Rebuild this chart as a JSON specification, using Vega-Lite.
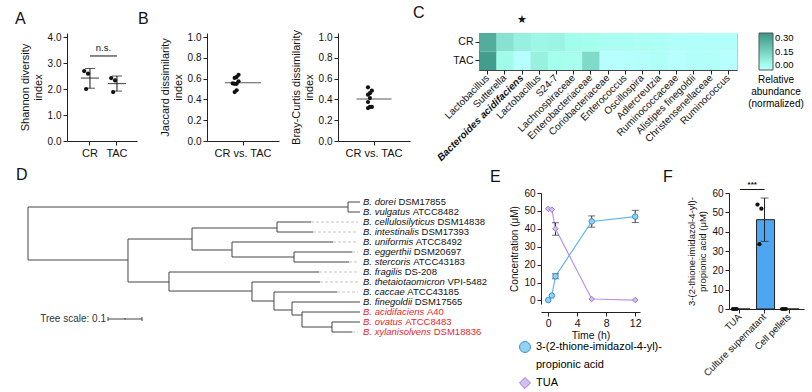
{
 "$schema": "https://vega.github.io/schema/vega-lite/v6.json",
 "background": "white",
 "padding": {"left": 15, "top": 4, "right": 0, "bottom": 0},
 "spacing": 4,
 "resolve": {"scale": {"color": "independent"}, "legend": {"color": "independent"}},
 "config": {
  "font": "Liberation Sans",
  "view": {"stroke": null},
  "axis": {"grid": false, "domainColor": "#222", "tickColor": "#222", "labelColor": "#111", "titleColor": "#111", "tickSize": 4, "labelFontSize": 10, "titleFontSize": 11, "titleFontWeight": "normal", "labelPadding": 2, "titlePadding": 4, "tickCount": 30},
  "title": {"fontSize": 16, "fontWeight": "normal", "anchor": "start", "frame": "group", "color": "#111"},
  "legend": {"titleFontWeight": "normal", "padding": 0}
 },
 "datasets": {
  "shannon": [
   {"group": "CR", "rep": "a", "value": 2.69},
   {"group": "CR", "rep": "b", "value": 2.0},
   {"group": "CR", "rep": "c", "value": 2.59},
   {"group": "TAC", "rep": "a", "value": 2.42},
   {"group": "TAC", "rep": "b", "value": 1.88},
   {"group": "TAC", "rep": "c", "value": 2.33}
  ],
  "shannon_sum": [
   {"group": "CR", "mean": 2.42, "lo": 2.03, "hi": 2.79},
   {"group": "TAC", "mean": 2.21, "lo": 1.92, "hi": 2.5}
  ],
  "ns": [{"g1": "CR", "g2": "TAC", "y": 3.27, "label": "n.s."}],
  "jaccard": [
   {"cmp": "CR vs. TAC", "col": 1, "value": 0.554},
   {"cmp": "CR vs. TAC", "col": 2, "value": 0.606},
   {"cmp": "CR vs. TAC", "col": 2, "value": 0.55},
   {"cmp": "CR vs. TAC", "col": 2, "value": 0.47},
   {"cmp": "CR vs. TAC", "col": 3, "value": 0.615},
   {"cmp": "CR vs. TAC", "col": 3, "value": 0.55},
   {"cmp": "CR vs. TAC", "col": 3, "value": 0.488},
   {"cmp": "CR vs. TAC", "col": 4, "value": 0.637},
   {"cmp": "CR vs. TAC", "col": 4, "value": 0.574}
  ],
  "jaccard_mean": [{"cmp": "CR vs. TAC", "mean": 0.56}],
  "bray": [
   {"cmp": "CR vs. TAC", "col": 1, "value": 0.516},
   {"cmp": "CR vs. TAC", "col": 1, "value": 0.445},
   {"cmp": "CR vs. TAC", "col": 1, "value": 0.375},
   {"cmp": "CR vs. TAC", "col": 1, "value": 0.317},
   {"cmp": "CR vs. TAC", "col": 2, "value": 0.46},
   {"cmp": "CR vs. TAC", "col": 2, "value": 0.413},
   {"cmp": "CR vs. TAC", "col": 2, "value": 0.327},
   {"cmp": "CR vs. TAC", "col": 3, "value": 0.484},
   {"cmp": "CR vs. TAC", "col": 3, "value": 0.327}
  ],
  "bray_mean": [{"cmp": "CR vs. TAC", "mean": 0.404}],
  "abund": [
   {"taxon": "Lactobacillus", "group": "CR", "value": 0.24},
   {"taxon": "Sutterella", "group": "CR", "value": 0.11},
   {"taxon": "Bacteroides acidifaciens", "group": "CR", "value": 0.075},
   {"taxon": "Lactobacillus 2", "group": "CR", "value": 0.06},
   {"taxon": "S24-7", "group": "CR", "value": 0.065},
   {"taxon": "Lachnospiraceae", "group": "CR", "value": 0.045},
   {"taxon": "Enterobacteriaceae", "group": "CR", "value": 0.04},
   {"taxon": "Coriobacteriaceae", "group": "CR", "value": 0.028},
   {"taxon": "Enterococcus", "group": "CR", "value": 0.028},
   {"taxon": "Oscillospira", "group": "CR", "value": 0.022},
   {"taxon": "Adlercreutzia", "group": "CR", "value": 0.02},
   {"taxon": "Ruminococcaceae", "group": "CR", "value": 0.013},
   {"taxon": "Alistipes finegoldii", "group": "CR", "value": 0.012},
   {"taxon": "Christensenellaceae", "group": "CR", "value": 0.01},
   {"taxon": "Ruminococcus", "group": "CR", "value": 0.01},
   {"taxon": "Lactobacillus", "group": "TAC", "value": 0.28},
   {"taxon": "Sutterella", "group": "TAC", "value": 0.05},
   {"taxon": "Bacteroides acidifaciens", "group": "TAC", "value": 0.0},
   {"taxon": "Lactobacillus 2", "group": "TAC", "value": 0.075},
   {"taxon": "S24-7", "group": "TAC", "value": 0.04},
   {"taxon": "Lachnospiraceae", "group": "TAC", "value": 0.035},
   {"taxon": "Enterobacteriaceae", "group": "TAC", "value": 0.13},
   {"taxon": "Coriobacteriaceae", "group": "TAC", "value": 0.0},
   {"taxon": "Enterococcus", "group": "TAC", "value": 0.0},
   {"taxon": "Oscillospira", "group": "TAC", "value": 0.006},
   {"taxon": "Adlercreutzia", "group": "TAC", "value": 0.016},
   {"taxon": "Ruminococcaceae", "group": "TAC", "value": 0.0},
   {"taxon": "Alistipes finegoldii", "group": "TAC", "value": 0.009},
   {"taxon": "Christensenellaceae", "group": "TAC", "value": 0.013},
   {"taxon": "Ruminococcus", "group": "TAC", "value": 0.0}
  ],
  "branches": [
   {"x": 0, "x2": 0, "y": 0.5, "y2": 5.8},
   {"x": 0, "x2": 0.9412, "y": 0.5, "y2": 0.5},
   {"x": 0.9412, "x2": 0.9412, "y": 0, "y2": 1},
   {"x": 0.9412, "x2": 0.9765, "y": 0, "y2": 0},
   {"x": 0.9412, "x2": 0.9765, "y": 1, "y2": 1},
   {"x": 0, "x2": 0.2941, "y": 5.8, "y2": 5.8},
   {"x": 0.2941, "x2": 0.2941, "y": 3.7, "y2": 8},
   {"x": 0.2941, "x2": 0.4824, "y": 3.7, "y2": 3.7},
   {"x": 0.4824, "x2": 0.4824, "y": 2.6, "y2": 4.8},
   {"x": 0.4824, "x2": 0.7324, "y": 2.6, "y2": 2.6},
   {"x": 0.7324, "x2": 0.7324, "y": 2, "y2": 3},
   {"x": 0.7324, "x2": 0.8324, "y": 2, "y2": 2},
   {"x": 0.7324, "x2": 0.8382, "y": 3, "y2": 3},
   {"x": 0.4824, "x2": 0.6, "y": 4.8, "y2": 4.8},
   {"x": 0.6, "x2": 0.6, "y": 4, "y2": 5.5},
   {"x": 0.6, "x2": 0.8971, "y": 4, "y2": 4},
   {"x": 0.6, "x2": 0.7824, "y": 5.5, "y2": 5.5},
   {"x": 0.7824, "x2": 0.7824, "y": 5, "y2": 6},
   {"x": 0.7824, "x2": 0.9529, "y": 5, "y2": 5},
   {"x": 0.7824, "x2": 0.9441, "y": 6, "y2": 6},
   {"x": 0.2941, "x2": 0.4147, "y": 8, "y2": 8},
   {"x": 0.4147, "x2": 0.4147, "y": 7, "y2": 8.9},
   {"x": 0.4147, "x2": 0.8559, "y": 7, "y2": 7},
   {"x": 0.4147, "x2": 0.6588, "y": 8.9, "y2": 8.9},
   {"x": 0.6588, "x2": 0.6588, "y": 8, "y2": 9.9},
   {"x": 0.6588, "x2": 0.8588, "y": 8, "y2": 8},
   {"x": 0.6588, "x2": 0.7235, "y": 9.9, "y2": 9.9},
   {"x": 0.7235, "x2": 0.7235, "y": 9, "y2": 10.8},
   {"x": 0.7235, "x2": 0.9088, "y": 9, "y2": 9},
   {"x": 0.7235, "x2": 0.7765, "y": 10.8, "y2": 10.8},
   {"x": 0.7765, "x2": 0.7765, "y": 10, "y2": 11.3},
   {"x": 0.7765, "x2": 0.9765, "y": 10, "y2": 10},
   {"x": 0.7765, "x2": 0.8059, "y": 11.3, "y2": 11.3},
   {"x": 0.8059, "x2": 0.8059, "y": 11, "y2": 12.5},
   {"x": 0.8059, "x2": 0.9765, "y": 11, "y2": 11},
   {"x": 0.8059, "x2": 0.8941, "y": 12.5, "y2": 12.5},
   {"x": 0.8941, "x2": 0.8941, "y": 12, "y2": 13},
   {"x": 0.8941, "x2": 0.9765, "y": 12, "y2": 12},
   {"x": 0.8941, "x2": 0.9529, "y": 13, "y2": 13}
  ],
  "gaps": [
   {"x": 0.8324, "x2": 0.9706, "y": 2},
   {"x": 0.8382, "x2": 0.9706, "y": 3},
   {"x": 0.8971, "x2": 0.9706, "y": 4},
   {"x": 0.9529, "x2": 0.9706, "y": 5},
   {"x": 0.9441, "x2": 0.9706, "y": 6},
   {"x": 0.8559, "x2": 0.9706, "y": 7},
   {"x": 0.8588, "x2": 0.9706, "y": 8},
   {"x": 0.9088, "x2": 0.9706, "y": 9},
   {"x": 0.9529, "x2": 0.9706, "y": 13}
  ],
  "leaves": [
   {"i": 0, "tip": 0.9765, "sp": "B. dorei", "strain": "DSM17855", "sel": "no"},
   {"i": 1, "tip": 0.9765, "sp": "B. vulgatus", "strain": "ATCC8482", "sel": "no"},
   {"i": 2, "tip": 0.9765, "sp": "B. cellulosilyticus", "strain": "DSM14838", "sel": "no"},
   {"i": 3, "tip": 0.9765, "sp": "B. intestinalis", "strain": "DSM17393", "sel": "no"},
   {"i": 4, "tip": 0.9765, "sp": "B. uniformis", "strain": "ATCC8492", "sel": "no"},
   {"i": 5, "tip": 0.9765, "sp": "B. eggerthii", "strain": "DSM20697", "sel": "no"},
   {"i": 6, "tip": 0.9765, "sp": "B. stercoris", "strain": "ATCC43183", "sel": "no"},
   {"i": 7, "tip": 0.9765, "sp": "B. fragilis", "strain": "DS-208", "sel": "no"},
   {"i": 8, "tip": 0.9765, "sp": "B. thetaiotaomicron", "strain": "VPI-5482", "sel": "no"},
   {"i": 9, "tip": 0.9765, "sp": "B. caccae", "strain": "ATCC43185", "sel": "no"},
   {"i": 10, "tip": 0.9765, "sp": "B. finegoldii", "strain": "DSM17565", "sel": "no"},
   {"i": 11, "tip": 0.9765, "sp": "B. acidifaciens", "strain": "A40", "sel": "yes"},
   {"i": 12, "tip": 0.9765, "sp": "B. ovatus", "strain": "ATCC8483", "sel": "yes"},
   {"i": 13, "tip": 0.9765, "sp": "B. xylanisolvens", "strain": "DSM18836", "sel": "yes"}
  ],
  "scalebar": [{"x": 0.2353, "x2": 0.3353, "y": 11.7, "label": "Tree scale: 0.1"}],
  "scaleticks": [
   {"x": 0.2353, "y": 11.5, "y2": 11.9},
   {"x": 0.3353, "y": 11.5, "y2": 11.9},
   {"x": 0.2853, "y": 11.6, "y2": 11.75}
  ],
  "conc": [
   {"compound": "3-(2-thione-imidazol-4-yl)-propionic acid", "t": 0, "mean": 0.2},
   {"compound": "3-(2-thione-imidazol-4-yl)-propionic acid", "t": 0.5, "mean": 2.7},
   {"compound": "3-(2-thione-imidazol-4-yl)-propionic acid", "t": 1, "mean": 13.5},
   {"compound": "3-(2-thione-imidazol-4-yl)-propionic acid", "t": 6, "mean": 44.1},
   {"compound": "3-(2-thione-imidazol-4-yl)-propionic acid", "t": 12, "mean": 46.8},
   {"compound": "TUA", "t": 0, "mean": 51.2},
   {"compound": "TUA", "t": 0.5, "mean": 50.7},
   {"compound": "TUA", "t": 1, "mean": 40},
   {"compound": "TUA", "t": 6, "mean": 0.8},
   {"compound": "TUA", "t": 12, "mean": 0.2}
  ],
  "conc_err": [
   {"compound": "3-(2-thione-imidazol-4-yl)-propionic acid", "t": 1, "lo": 12.1, "hi": 14.9},
   {"compound": "3-(2-thione-imidazol-4-yl)-propionic acid", "t": 6, "lo": 40.9, "hi": 47.2},
   {"compound": "3-(2-thione-imidazol-4-yl)-propionic acid", "t": 12, "lo": 43.5, "hi": 50.3},
   {"compound": "TUA", "t": 1, "lo": 36.4, "hi": 43.4}
  ],
  "thione_bar": [
   {"sample": "TUA", "mean": 0},
   {"sample": "Culture supernatant", "mean": 46.2},
   {"sample": "Cell pellets", "mean": 0}
  ],
  "thione_pts": [
   {"sample": "TUA", "rep": "a", "value": 0},
   {"sample": "TUA", "rep": "b", "value": 0},
   {"sample": "TUA", "rep": "c", "value": 0},
   {"sample": "Culture supernatant", "rep": "a", "value": 54},
   {"sample": "Culture supernatant", "rep": "b", "value": 33.5},
   {"sample": "Culture supernatant", "rep": "c", "value": 51.9},
   {"sample": "Cell pellets", "rep": "a", "value": 0},
   {"sample": "Cell pellets", "rep": "b", "value": 0},
   {"sample": "Cell pellets", "rep": "c", "value": 0}
  ],
  "thione_err": [{"sample": "Culture supernatant", "lo": 35, "hi": 57.4}],
  "sig": [{"g1": "TUA", "g2": "Culture supernatant", "y": 61.8, "label": "***"}]
 },
 "vconcat": [
  {
   "bounds": "flush",
   "spacing": 0,
   "resolve": {"scale": {"color": "independent"}, "legend": {"color": "independent"}},
   "hconcat": [
    {
     "width": 70, "height": 108,
     "title": {"text": "A", "dx": -52, "offset": 5},
     "layer": [
      {"data": {"name": "shannon"}, "mark": {"type": "circle", "size": 18, "color": "#111", "opacity": 1},
       "encoding": {
        "x": {"field": "group", "type": "nominal", "scale": {"type": "band", "domain": ["CR", "TAC"], "paddingInner": 0.5, "paddingOuter": 0.546, "align": 0.55}, "axis": {"title": null, "labelAngle": 0, "labelFontSize": 11}},
        "xOffset": {"field": "rep", "type": "nominal", "scale": {"domain": ["a", "b", "c"]}},
        "y": {"field": "value", "type": "quantitative", "scale": {"domain": [0, 4.154], "nice": false}, "axis": {"values": [0, 1, 2, 3, 4], "title": ["Shannon diversity", "index"]}}
       }},
      {"data": {"name": "shannon_sum"}, "mark": {"type": "tick", "orient": "horizontal", "size": 18, "thickness": 1.2, "color": "#111"},
       "encoding": {"x": {"field": "group", "type": "nominal"}, "y": {"field": "mean", "type": "quantitative"}}},
      {"data": {"name": "shannon_sum"}, "mark": {"type": "rule", "color": "#111", "strokeWidth": 1},
       "encoding": {"x": {"field": "group", "type": "nominal", "bandPosition": 0.5}, "y": {"field": "lo", "type": "quantitative"}, "y2": {"field": "hi"}}},
      {"data": {"name": "shannon_sum"}, "mark": {"type": "tick", "orient": "horizontal", "size": 10, "thickness": 1, "color": "#111"},
       "encoding": {"x": {"field": "group", "type": "nominal"}, "y": {"field": "lo", "type": "quantitative"}}},
      {"data": {"name": "shannon_sum"}, "mark": {"type": "tick", "orient": "horizontal", "size": 10, "thickness": 1, "color": "#111"},
       "encoding": {"x": {"field": "group", "type": "nominal"}, "y": {"field": "hi", "type": "quantitative"}}},
      {"data": {"name": "ns"}, "mark": {"type": "rule", "color": "#111", "strokeWidth": 1},
       "encoding": {"x": {"field": "g1", "type": "nominal", "bandPosition": 0.5}, "x2": {"field": "g2", "bandPosition": 0.5}, "y": {"field": "y", "type": "quantitative"}}},
      {"data": {"name": "ns"}, "mark": {"type": "text", "dx": 13.5, "dy": -3, "baseline": "bottom", "fontSize": 9.5, "color": "#111"},
       "encoding": {"x": {"field": "g1", "type": "nominal"}, "y": {"field": "y", "type": "quantitative"}, "text": {"field": "label"}}}
     ]
    },
    {"width": 70, "height": 108, "data": {"values": [{"a": 1}]}, "mark": {"type": "point", "opacity": 0}, "encoding": {}},
    {
     "width": 72, "height": 108,
     "title": {"text": "B", "dx": -69, "offset": 5},
     "layer": [
      {"data": {"name": "jaccard"}, "mark": {"type": "circle", "size": 18, "color": "#111", "opacity": 1},
       "encoding": {
        "x": {"field": "cmp", "type": "nominal", "scale": {"type": "band", "paddingInner": 0, "paddingOuter": 0.5588}, "axis": {"title": null, "labelAngle": 0, "labelFontSize": 11}},
        "xOffset": {"field": "col", "type": "nominal", "scale": {"domain": [1, 2, 3, 4]}},
        "y": {"field": "value", "type": "quantitative", "scale": {"domain": [0, 1.0385], "nice": false}, "axis": {"values": [0, 0.2, 0.4, 0.6, 0.8, 1.0], "format": ".1f", "title": ["Jaccard dissimilarity", "index"]}}
       }},
      {"data": {"name": "jaccard_mean"}, "mark": {"type": "tick", "orient": "horizontal", "size": 36, "thickness": 1, "color": "#111"},
       "encoding": {"x": {"field": "cmp", "type": "nominal"}, "y": {"field": "mean", "type": "quantitative"}}}
     ]
    },
    {"width": 59, "height": 108, "data": {"values": [{"a": 1}]}, "mark": {"type": "point", "opacity": 0}, "encoding": {}},
    {
     "width": 72, "height": 108,
     "layer": [
      {"data": {"name": "bray"}, "mark": {"type": "circle", "size": 18, "color": "#111", "opacity": 1},
       "encoding": {
        "x": {"field": "cmp", "type": "nominal", "scale": {"type": "band", "paddingInner": 0, "paddingOuter": 0.9118}, "axis": {"title": null, "labelAngle": 0, "labelFontSize": 11}},
        "xOffset": {"field": "col", "type": "nominal", "scale": {"domain": [1, 2, 3]}},
        "y": {"field": "value", "type": "quantitative", "scale": {"domain": [0, 1.0385], "nice": false}, "axis": {"values": [0, 0.2, 0.4, 0.6, 0.8, 1.0], "format": ".1f", "title": ["Bray-Curtis dissimilarity", "index"]}}
       }},
      {"data": {"name": "bray_mean"}, "mark": {"type": "tick", "orient": "horizontal", "size": 35, "thickness": 1, "color": "#111"},
       "encoding": {"x": {"field": "cmp", "type": "nominal"}, "y": {"field": "mean", "type": "quantitative"}}}
     ]
    },
    {"width": 69, "height": 108, "data": {"values": [{"a": 1}]}, "mark": {"type": "point", "opacity": 0}, "encoding": {}},
    {
     "width": 258, "height": 37,
     "title": {"text": "C", "dx": -66, "offset": -8},
     "view": {"stroke": "#444", "strokeWidth": 1},
     "data": {"name": "abund"},
     "layer": [
      {"mark": {"type": "rect"},
       "encoding": {
        "x": {"field": "taxon", "type": "nominal", "sort": null,
              "scale": {"domain": ["Lactobacillus", "Sutterella", "Bacteroides acidifaciens", "Lactobacillus 2", "S24-7", "Lachnospiraceae", "Enterobacteriaceae", "Coriobacteriaceae", "Enterococcus", "Oscillospira", "Adlercreutzia", "Ruminococcaceae", "Alistipes finegoldii", "Christensenellaceae", "Ruminococcus"], "paddingInner": 0, "paddingOuter": 0},
              "axis": {"orient": "bottom", "title": null, "labelAngle": -45, "labelAlign": "right", "labelBaseline": "middle", "labelFontSize": 10, "domain": false,
                       "labelExpr": "datum.label == 'Lactobacillus 2' ? 'Lactobacillus' : datum.label",
                       "labelFontWeight": {"condition": {"test": "datum.value == 'Bacteroides acidifaciens'", "value": "bold"}, "value": "normal"},
                       "labelFontStyle": {"condition": {"test": "datum.value == 'Bacteroides acidifaciens'", "value": "italic"}, "value": "normal"}}},
        "y": {"field": "group", "type": "nominal", "scale": {"domain": ["CR", "TAC"], "paddingInner": 0, "paddingOuter": 0}, "axis": {"title": null, "labelFontSize": 10.5, "domain": false}},
        "color": {"field": "value", "type": "quantitative", "scale": {"domain": [0, 0.3], "range": ["#ffffff", "#3a9585"]},
                  "legend": {"title": ["Relative", "abundance", "(normalized)"], "titleOrient": "bottom", "titleAnchor": "middle", "titleFontSize": 10, "titleFontWeight": "normal", "gradientLength": 37, "gradientThickness": 14, "values": [0, 0.15, 0.3], "format": ".2f", "labelFontSize": 9.5, "offset": 11, "gradientStrokeColor": "#555", "gradientStrokeWidth": 1, "titlePadding": 4, "direction": "vertical"}}
       }},
      {"mark": {"type": "rect", "opacity": 0},
       "encoding": {
        "x": {"field": "taxon", "type": "nominal", "sort": null, "axis": {"orient": "top", "title": null, "domain": false, "ticks": false, "labelAngle": 0, "labelFont": "DejaVu Sans", "labelFontSize": 11, "labelPadding": 9, "labelExpr": "datum.value == 'Bacteroides acidifaciens' ? '★' : ''"}},
        "y": {"field": "group", "type": "nominal"}
       }}
     ],
     "resolve": {"axis": {"x": "independent"}}
    }
   ]
  },
  {
   "bounds": "flush",
   "spacing": 0,
   "resolve": {"scale": {"color": "independent"}, "legend": {"color": "independent"}},
   "hconcat": [
    {
     "width": 420, "height": 145,
     "title": {"text": "D", "dx": -51, "offset": 10},
     "layer": [
      {"data": {"name": "gaps"}, "mark": {"type": "rule", "color": "#c4c4c4", "strokeDash": [3, 2], "strokeWidth": 1},
       "encoding": {
        "x": {"field": "x", "type": "quantitative", "scale": {"domain": [0.1147, 1.35], "nice": false, "zero": false}, "axis": null},
        "x2": {"field": "x2"},
        "y": {"field": "y", "type": "quantitative", "scale": {"domain": [-0.9, 13.6], "nice": false, "zero": false, "reverse": true}, "axis": null}
       }},
      {"data": {"name": "branches"}, "mark": {"type": "rule", "color": "#444", "strokeWidth": 1},
       "encoding": {"x": {"field": "x", "type": "quantitative"}, "x2": {"field": "x2"}, "y": {"field": "y", "type": "quantitative"}, "y2": {"field": "y2"}}},
      {"data": {"name": "leaves"}, "mark": {"type": "text", "align": "left", "baseline": "middle", "fontStyle": "italic", "fontSize": 9.5, "dx": 3},
       "encoding": {"x": {"field": "tip", "type": "quantitative"}, "y": {"field": "i", "type": "quantitative"}, "text": {"field": "sp"},
                    "color": {"field": "sel", "type": "nominal", "scale": {"domain": ["no", "yes"], "range": ["#111111", "#e8262b"]}, "legend": null}}},
      {"data": {"name": "leaves"}, "mark": {"type": "text", "align": "left", "baseline": "middle", "fontSize": 9.5,
         "dx": {"expr": "3 + 0.0095*(556*length(datum.sp) - 334*(length(datum.sp)-length(replace(datum.sp, regexp('[ijl]','g'), ''))) - 278*(length(datum.sp)-length(replace(datum.sp, regexp('[tf. ]','g'), ''))) - 223*(length(datum.sp)-length(replace(datum.sp, regexp('r','g'), ''))) - 56*(length(datum.sp)-length(replace(datum.sp, regexp('[cksvxyz]','g'), ''))) + 111*(length(datum.sp)-length(replace(datum.sp, regexp('B','g'), ''))) + 277*(length(datum.sp)-length(replace(datum.sp, regexp('m','g'), ''))) + 278)"}},
       "encoding": {"x": {"field": "tip", "type": "quantitative"}, "y": {"field": "i", "type": "quantitative"}, "text": {"field": "strain"},
                    "color": {"field": "sel", "type": "nominal", "legend": null}}},
      {"data": {"name": "scalebar"}, "mark": {"type": "rule", "color": "#444", "strokeWidth": 1},
       "encoding": {"x": {"field": "x", "type": "quantitative"}, "x2": {"field": "x2"}, "y": {"field": "y", "type": "quantitative"}}},
      {"data": {"name": "scaleticks"}, "mark": {"type": "rule", "color": "#444", "strokeWidth": 1},
       "encoding": {"x": {"field": "x", "type": "quantitative"}, "y": {"field": "y", "type": "quantitative"}, "y2": {"field": "y2"}}},
      {"data": {"name": "scalebar"}, "mark": {"type": "text", "align": "right", "baseline": "middle", "dx": -2, "fontSize": 10, "color": "#333"},
       "encoding": {"x": {"field": "x", "type": "quantitative"}, "y": {"field": "y", "type": "quantitative"}, "text": {"field": "label"}}}
     ]
    },
    {"width": 54, "height": 100, "data": {"values": [{"a": 1}]}, "mark": {"type": "point", "opacity": 0}, "encoding": {}},
    {
     "width": 99, "height": 111,
     "title": {"text": "E", "dx": -51, "offset": 3},
     "layer": [
      {"data": {"name": "conc"}, "transform": [{"filter": "datum.compound != 'TUA'"}], "mark": {"type": "line", "color": "#5cb6ee", "strokeWidth": 1.2},
       "encoding": {
        "x": {"field": "t", "type": "quantitative", "scale": {"domain": [-1, 12.66], "nice": false, "zero": false}, "axis": {"values": [0, 4, 8, 12], "format": "d", "title": "Time (h)", "offset": 8, "labelFontSize": 10.5, "titleFontSize": 10.5, "titlePadding": 2}},
        "y": {"field": "mean", "type": "quantitative", "scale": {"domain": [-2, 60], "nice": false, "zero": false}, "axis": {"values": [0, 10, 20, 30, 40, 50, 60], "format": "d", "title": "Concentration (μM)", "titleFontSize": 10}}
       }},
      {"data": {"name": "conc"}, "transform": [{"filter": "datum.compound == 'TUA'"}], "mark": {"type": "line", "color": "#b994e6", "strokeWidth": 1.2},
       "encoding": {"x": {"field": "t", "type": "quantitative"}, "y": {"field": "mean", "type": "quantitative"}}},
      {"data": {"name": "conc_err"}, "mark": {"type": "rule", "color": "#333", "strokeWidth": 1},
       "encoding": {"x": {"field": "t", "type": "quantitative"}, "y": {"field": "lo", "type": "quantitative"}, "y2": {"field": "hi"}}},
      {"data": {"name": "conc_err"}, "mark": {"type": "tick", "orient": "horizontal", "size": 7, "thickness": 1, "color": "#333"},
       "encoding": {"x": {"field": "t", "type": "quantitative"}, "y": {"field": "lo", "type": "quantitative"}}},
      {"data": {"name": "conc_err"}, "mark": {"type": "tick", "orient": "horizontal", "size": 7, "thickness": 1, "color": "#333"},
       "encoding": {"x": {"field": "t", "type": "quantitative"}, "y": {"field": "hi", "type": "quantitative"}}},
      {"data": {"name": "conc"}, "mark": {"type": "point", "filled": true, "size": 30, "strokeWidth": 1, "opacity": 1},
       "encoding": {
        "x": {"field": "t", "type": "quantitative"},
        "y": {"field": "mean", "type": "quantitative"},
        "shape": {"field": "compound", "type": "nominal", "scale": {"domain": ["3-(2-thione-imidazol-4-yl)-propionic acid", "_", "TUA"], "range": ["circle", "circle", "diamond"]},
                  "legend": {"orient": "none", "direction": "vertical", "columns": 1, "legendX": 452, "legendY": 308, "title": null, "symbolSize": 120, "symbolStrokeWidth": 1, "labelFontSize": 11, "labelOffset": 5, "rowPadding": 2,
                             "labelExpr": "datum.label == 'TUA' ? 'TUA' : (datum.label == '_' ? 'propionic acid' : '3-(2-thione-imidazol-4-yl)-')",
                             "encode": {"symbols": {"update": {
                               "shape": {"signal": "datum.value == 'TUA' ? 'M-1,0L-0.6,0M0.6,0L1,0M0,-0.6L0.6,0L0,0.6L-0.6,0Z' : 'M-1,0L-0.55,0M0.55,0L1,0M0.55,0A0.55,0.55,0,1,1,-0.55,0A0.55,0.55,0,1,1,0.55,0Z'"},
                               "fill": {"signal": "datum.value == 'TUA' ? '#d4c1f2' : '#93d2f3'"},
                               "stroke": {"signal": "datum.value == 'TUA' ? '#9a78cf' : '#3a8fd6'"},
                               "opacity": {"signal": "datum.value == '_' ? 0 : 1"}}}}}},
        "fill": {"field": "compound", "type": "nominal", "scale": {"domain": ["3-(2-thione-imidazol-4-yl)-propionic acid", "_", "TUA"], "range": ["#93d2f3", "#ffffff", "#d4c1f2"]}, "legend": null},
        "stroke": {"field": "compound", "type": "nominal", "scale": {"domain": ["3-(2-thione-imidazol-4-yl)-propionic acid", "_", "TUA"], "range": ["#3a8fd6", "#ffffff", "#9a78cf"]}, "legend": null}
       }}
     ]
    },
    {"width": 89, "height": 100, "data": {"values": [{"a": 1}]}, "mark": {"type": "point", "opacity": 0}, "encoding": {}},
    {
     "width": 75, "height": 116,
     "title": {"text": "F", "dx": -66, "offset": -4},
     "layer": [
      {"data": {"name": "thione_bar"}, "mark": {"type": "bar", "fill": "#4ea6f2", "stroke": "#222", "strokeWidth": 1},
       "encoding": {
        "x": {"field": "sample", "type": "nominal", "sort": null, "scale": {"domain": ["TUA", "Culture supernatant", "Cell pellets"], "paddingInner": 0.35, "paddingOuter": 0.2, "align": 0.3},
              "axis": {"title": null, "labelAngle": -45, "labelAlign": "right", "labelBaseline": "middle", "labelFontSize": 9.5}},
        "y": {"field": "mean", "type": "quantitative", "scale": {"domain": [0, 60], "nice": false}, "axis": {"values": [0, 10, 20, 30, 40, 50, 60], "title": ["3-(2-thione-imidazol-4-yl)-", "propionic acid (μM)"], "titleFontSize": 9.5}}
       }},
      {"data": {"name": "thione_err"}, "mark": {"type": "rule", "color": "#222", "strokeWidth": 1},
       "encoding": {"x": {"field": "sample", "type": "nominal", "bandPosition": 0.5}, "y": {"field": "lo", "type": "quantitative"}, "y2": {"field": "hi"}}},
      {"data": {"name": "thione_err"}, "mark": {"type": "tick", "orient": "horizontal", "size": 8, "thickness": 1, "color": "#222"},
       "encoding": {"x": {"field": "sample", "type": "nominal"}, "y": {"field": "lo", "type": "quantitative"}}},
      {"data": {"name": "thione_err"}, "mark": {"type": "tick", "orient": "horizontal", "size": 8, "thickness": 1, "color": "#222"},
       "encoding": {"x": {"field": "sample", "type": "nominal"}, "y": {"field": "hi", "type": "quantitative"}}},
      {"data": {"name": "thione_pts"}, "mark": {"type": "circle", "size": 18, "color": "#111", "opacity": 1},
       "encoding": {"x": {"field": "sample", "type": "nominal"}, "xOffset": {"field": "rep", "type": "nominal", "scale": {"domain": ["a", "b", "c"]}}, "y": {"field": "value", "type": "quantitative"}}},
      {"data": {"name": "sig"}, "mark": {"type": "rule", "color": "#111", "strokeWidth": 1},
       "encoding": {"x": {"field": "g1", "type": "nominal", "bandPosition": 0.5}, "x2": {"field": "g2", "bandPosition": 0.5}, "y": {"field": "y", "type": "quantitative"}}},
      {"data": {"name": "sig"}, "mark": {"type": "text", "dx": 12.3, "dy": -1, "baseline": "bottom", "fontSize": 8, "fontWeight": "bold", "color": "#111"},
       "encoding": {"x": {"field": "g1", "type": "nominal"}, "y": {"field": "y", "type": "quantitative"}, "text": {"field": "label"}}}
     ]
    }
   ]
  }
 ]
}
